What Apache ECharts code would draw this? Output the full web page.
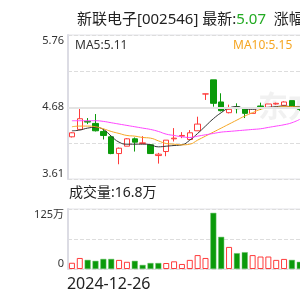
<!DOCTYPE html>
<html>
<head>
<meta charset="utf-8">
<script src="https://cdn.jsdelivr.net/npm/echarts@6/dist/echarts.min.js"></script>
<style>
  html, body { margin: 0; padding: 0; width: 300px; height: 300px; overflow: hidden; background: #fff; }
  #main { width: 310px; height: 300px; }
</style>
</head>
<body>
<div id="main"></div>
<script>
// 日期（只显示第一个）
var dates = ['2024-12-26', '2024-12-27', '2024-12-30', '2024-12-31', '2025-01-02', '2025-01-03',
  '2025-01-06', '2025-01-07', '2025-01-08', '2025-01-09', '2025-01-10', '2025-01-13', '2025-01-14',
  '2025-01-15', '2025-01-16', '2025-01-17', '2025-01-20', '2025-01-21', '2025-01-22', '2025-01-23',
  '2025-01-24', '2025-01-27', '2025-02-05', '2025-02-06', '2025-02-07', '2025-02-10', '2025-02-11',
  '2025-02-12', '2025-02-13', '2025-02-14'];

// K线 开/收/低/高
var opens  = [4.24, 4.35, 4.47, 4.44, 4.32, 4.24, 3.99, 4.10, 4.21, 4.14, 4.12, 3.96, 4.02, 4.21, 4.25,
  4.20, 4.33, 4.88, 5.09, 4.76, 4.60, 4.69, 4.66, 4.59, 4.70, 4.68, 4.73, 4.71, 4.78, 4.66];
var closes = [4.30, 4.51, 4.46, 4.33, 4.26, 3.99, 4.07, 4.21, 4.16, 4.15, 3.99, 3.98, 4.19, 4.22, 4.26,
  4.30, 4.43, 4.88, 4.74, 4.63, 4.65, 4.66, 4.59, 4.67, 4.69, 4.73, 4.74, 4.76, 4.68, 4.65];
var lows   = [4.23, 4.35, 4.43, 4.32, 4.20, 3.98, 3.83, 4.10, 4.02, 4.14, 3.99, 3.84, 3.95, 4.17, 4.22,
  4.20, 4.33, 4.79, 4.69, 4.62, 4.59, 4.59, 4.52, 4.59, 4.64, 4.68, 4.72, 4.71, 4.68, 4.63];
var highs  = [4.31, 4.66, 4.52, 4.58, 4.36, 4.25, 4.08, 4.22, 4.23, 4.25, 4.13, 4.00, 4.19, 4.37, 4.31,
  4.34, 4.54, 4.88, 5.09, 4.89, 4.72, 4.74, 4.66, 4.67, 4.75, 4.73, 4.75, 4.77, 4.78, 4.67];

// 均线
var ma5  = [4.33, 4.34, 4.37, 4.38, 4.35, 4.25, 4.16, 4.13, 4.13, 4.13, 4.12, 4.09, 4.10, 4.11, 4.12,
  4.19, 4.29, 4.40, 4.51, 4.60, 4.67, 4.69, 4.66, 4.65, 4.67, 4.68, 4.69, 4.70, 4.69, 4.69];
var ma10 = [4.39, 4.40, 4.40, 4.39, 4.36, 4.32, 4.29, 4.26, 4.25, 4.23, 4.22, 4.18, 4.14, 4.13, 4.12,
  4.13, 4.19, 4.25, 4.31, 4.37, 4.43, 4.49, 4.55, 4.60, 4.65, 4.67, 4.68, 4.69, 4.69, 4.68];
var ma20 = [4.48, 4.48, 4.48, 4.48, 4.47, 4.45, 4.43, 4.41, 4.39, 4.37, 4.35, 4.32, 4.28, 4.26, 4.24,
  4.23, 4.25, 4.27, 4.29, 4.31, 4.32, 4.33, 4.34, 4.35, 4.36, 4.38, 4.40, 4.42, 4.45, 4.50];

// 成交量（万）及涨跌
var volumes = [13, 23, 19, 17, 21, 21, 19, 15, 17, 8.5, 12.5, 12.5, 12.5, 16, 10.5, 19, 29, 23, 117, 67,
  46, 33, 35, 29, 26, 26, 19, 21, 19, 15];
var volUp = [1, 1, 0, 0, 0, 0, 1, 1, 0, 0, 0, 0, 1, 1, 1, 1, 1, 1, 0, 0, 1, 0, 0, 1, 1, 1, 1, 1, 0, 0];

var priceMin = 3.61, priceMax = 5.76, priceMid = 4.685;
var priceTicks = ['3.61', '', '4.68', '', '5.76'];
var volMax = 125;
var volTicks = ['0', '', '125万'];

var UP = '#ff3b3b', DOWN = '#0a9a0a';
var font = 'Noto Sans, Noto Sans CJK SC, sans-serif';

var kData = [];
for (var i = 0; i < dates.length; i++) {
  kData.push([opens[i], closes[i], lows[i], highs[i]]);
}
var volData = [];
for (var i = 0; i < volumes.length; i++) {
  volData.push({
    value: volumes[i],
    itemStyle: volUp[i]
      ? { color: '#fff', borderColor: UP, borderWidth: 1 }
      : { color: DOWN, borderColor: '#6cc36c', borderWidth: 0.5 }
  });
}

var myChart = echarts.init(document.getElementById('main'));
var option = {
  animation: false,
  textStyle: { fontFamily: font },
  title: {
    left: 72,
    top: 7,
    text: '{a|新联电子[002546] 最新:}{b|5.07}{a|  涨幅:}',
    textStyle: {
      fontWeight: 'normal',
      rich: {
        a: { fontSize: 15, color: '#222', fontWeight: 'normal', fontFamily: font },
        b: { fontSize: 15, color: '#22aa22', fontWeight: 'normal', fontFamily: font }
      }
    }
  },
  graphic: [
    { type: 'text', left: 258, top: 93, z: 0, silent: true,
      style: { text: '东方财富', fontSize: 30, fontWeight: 'bold', fill: 'rgba(180,180,180,0.18)', fontFamily: font } },
    { type: 'text', left: 75, top: 40, style: { text: 'MA5:5.11', fontSize: 12, fill: '#333', fontFamily: font } },
    { type: 'text', left: 233, top: 40, style: { text: 'MA10:5.15', fontSize: 12, fill: '#f5a623', fontFamily: font } },
    { type: 'text', left: 69, top: 186, style: { text: '成交量:16.8万', fontSize: 14, fill: '#222', fontFamily: font } }
  ],
  grid: [
    { left: 68, right: 6.3, top: 35, height: 144, show: true, borderColor: '#e2e2e8', borderWidth: 1 },
    { left: 68, right: 6.3, top: 209, height: 60, show: true, borderColor: '#e2e2e8', borderWidth: 1 }
  ],
  xAxis: [
    { type: 'category', gridIndex: 0, data: dates, boundaryGap: true,
      axisLine: { show: false }, axisTick: { show: false }, axisLabel: { show: false }, splitLine: { show: false } },
    { type: 'category', gridIndex: 1, data: dates, boundaryGap: true,
      axisLine: { show: false }, axisTick: { show: false }, splitLine: { show: false },
      axisLabel: {
        interval: 0, margin: 7, fontSize: 16, color: '#222', align: 'left', padding: [0, 0, 0, -5],
        formatter: function (v, i) { return i === 0 ? v : ''; }
      } }
  ],
  yAxis: [
    { type: 'value', gridIndex: 0, min: priceMin, max: priceMax, interval: (priceMax - priceMin) / 4,
      axisLine: { show: true, lineStyle: { color: '#dcdce4', width: 2 } }, axisTick: { show: false },
      axisLabel: {
        fontSize: 11, color: '#333', margin: 4,
        verticalAlignMinLabel: 'bottom', verticalAlignMaxLabel: 'top',
        formatter: function (v) { return priceTicks[Math.round((v - priceMin) / ((priceMax - priceMin) / 4))] || ''; }
      },
      splitLine: { show: true, lineStyle: { color: '#ddd', type: 'dashed' } } },
    { type: 'value', gridIndex: 1, min: 0, max: volMax, interval: volMax / 2,
      axisLine: { show: true, lineStyle: { color: '#dcdce4', width: 2 } }, axisTick: { show: false },
      axisLabel: {
        fontSize: 11, color: '#333', margin: 4,
        verticalAlignMinLabel: 'bottom', verticalAlignMaxLabel: 'top',
        formatter: function (v) { return volTicks[Math.round(v / (volMax / 2))] || ''; }
      },
      splitLine: { show: true, lineStyle: { color: '#ddd', type: 'dashed' } } }
  ],
  series: [
    {
      name: 'K', type: 'candlestick', xAxisIndex: 0, yAxisIndex: 0, data: kData, barWidth: 6,
      itemStyle: { color: '#fff', color0: DOWN, borderColor: UP, borderColor0: DOWN, borderWidth: 1 },
      markLine: {
        silent: true, symbol: 'none', label: { show: false },
        lineStyle: { color: '#e4e4e4', type: 'solid', width: 2 },
        data: [{ yAxis: priceMid }]
      }
    },
    { name: 'MA5', type: 'line', data: ma5, smooth: true, showSymbol: false,
      lineStyle: { color: '#333', width: 1 } },
    { name: 'MA10', type: 'line', data: ma10, smooth: true, showSymbol: false,
      lineStyle: { color: '#f5a623', width: 1 } },
    { name: 'MA20', type: 'line', data: ma20, smooth: true, showSymbol: false,
      lineStyle: { color: '#ff44ff', width: 1 } },
    { name: 'VOL', type: 'bar', xAxisIndex: 1, yAxisIndex: 1, data: volData, barWidth: 6 }
  ]
};
myChart.setOption(option);
</script>
</body>
</html>
